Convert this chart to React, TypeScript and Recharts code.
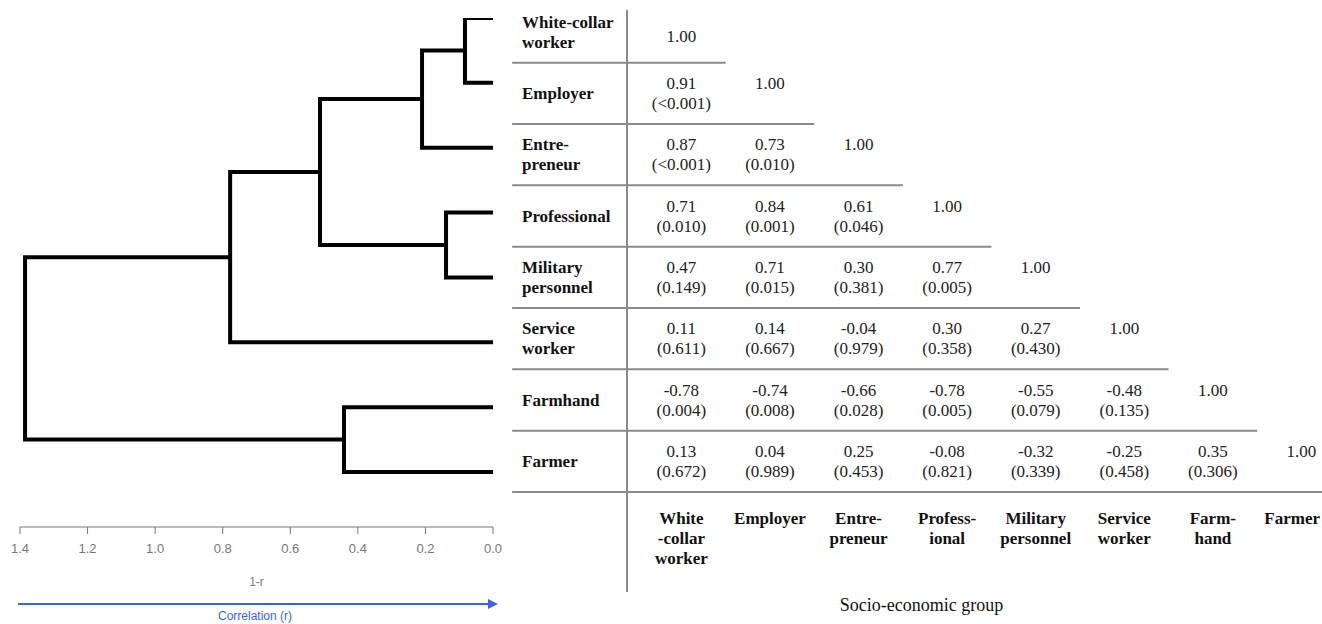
import React from 'react';
import { LineChart, Line, XAxis, YAxis, ScatterChart, Scatter, ReferenceLine } from 'recharts';

// ---------- data ----------
const groups = ['White-collar worker', 'Employer', 'Entrepreneur', 'Professional', 'Military personnel', 'Service worker', 'Farmhand', 'Farmer'];
const rowLabelLines = [['White-collar', 'worker'], ['Employer'], ['Entre-', 'preneur'], ['Professional'], ['Military', 'personnel'], ['Service', 'worker'], ['Farmhand'], ['Farmer']];
const colLabelLines = [['White', '-collar', 'worker'], ['Employer'], ['Entre-', 'preneur'], ['Profess-', 'ional'], ['Military', 'personnel'], ['Service', 'worker'], ['Farm-', 'hand'], ['Farmer']];

// lower-triangle correlations (row i, columns 0..i)
const rValues: number[][] = [
  [1.0],
  [0.91, 1.0],
  [0.87, 0.73, 1.0],
  [0.71, 0.84, 0.61, 1.0],
  [0.47, 0.71, 0.3, 0.77, 1.0],
  [0.11, 0.14, -0.04, 0.3, 0.27, 1.0],
  [-0.78, -0.74, -0.66, -0.78, -0.55, -0.48, 1.0],
  [0.13, 0.04, 0.25, -0.08, -0.32, -0.25, 0.35, 1.0],
];
const pValues: string[][] = [
  [],
  ['<0.001'],
  ['<0.001', '0.010'],
  ['0.010', '0.001', '0.046'],
  ['0.149', '0.015', '0.381', '0.005'],
  ['0.611', '0.667', '0.979', '0.358', '0.430'],
  ['0.004', '0.008', '0.028', '0.005', '0.079', '0.135'],
  ['0.672', '0.989', '0.453', '0.821', '0.339', '0.458', '0.306'],
];

// dendrogram merges (L = leaf index, M = earlier merge index), heights in 1-r
const mergeA = ['L0', 'M0', 'L3', 'M1', 'M3', 'L6', 'M4'];
const mergeB = ['L1', 'L2', 'L4', 'M2', 'L5', 'L7', 'M5'];
const mergeHeight = [0.083, 0.21, 0.139, 0.512, 0.778, 0.441, 1.385];
const distTicks = [0, 0.2, 0.4, 0.6, 0.8, 1.0, 1.2, 1.4];

// ---------- derived ----------
const nodeY: Record<string, number> = {};
const nodeH: Record<string, number> = {};
groups.forEach((_, i) => { nodeY['L' + i] = i; nodeH['L' + i] = 0; });
const segments = mergeHeight.map((h, k) => {
  const a = mergeA[k], b = mergeB[k];
  nodeY['M' + k] = (nodeY[a] + nodeY[b]) / 2;
  nodeH['M' + k] = h;
  return [
    { x: nodeH[a], y: nodeY[a] },
    { x: h, y: nodeY[a] },
    { x: h, y: nodeY[b] },
    { x: nodeH[b], y: nodeY[b] },
  ];
});

const cells: any[] = [];
rValues.forEach((row, i) => row.forEach((r, j) => {
  cells.push({ row: i, col: j, r: r.toFixed(2), p: pValues[i][j] ?? null, single: row.length === 1 });
}));

const SERIF = '"Liberation Serif", "Times New Roman", serif';
const SANS = '"Liberation Sans", Arial, sans-serif';
const GRID = '#8a8a8a';
const TABLE_W = 812;

const RowTick = (props: any) => {
  const lines = rowLabelLines[props.payload.value] || [];
  const y0 = props.y - (lines.length - 1) * 10;
  return (
    <g>
      {lines.map((t, k) => (
        <text key={k} x={12} y={y0 + k * 20} dominantBaseline="central" fontFamily={SERIF} fontWeight="bold" fontSize={17} fill="#111">{t}</text>
      ))}
    </g>
  );
};

const ColTick = (props: any) => {
  const lines = colLabelLines[props.payload.value] || [];
  const nearEdge = props.x + 30 > TABLE_W;
  return (
    <g>
      {lines.map((t, k) => (
        <text key={k} x={nearEdge ? TABLE_W - 2 : props.x} y={props.y + 20 + k * 20} textAnchor={nearEdge ? 'end' : 'middle'} dominantBaseline="central" fontFamily={SERIF} fontWeight="bold" fontSize={17} fill="#111">{t}</text>
      ))}
    </g>
  );
};

const CellShape = (props: any) => {
  const { cx, cy, payload } = props;
  const yR = payload.single ? cy + 4 : cy - 10;
  return (
    <g>
      <text x={cx} y={yR} textAnchor="middle" dominantBaseline="central" fontFamily={SERIF} fontSize={17} fill="#222">{payload.r}</text>
      {payload.p && (
        <text x={cx} y={cy + 10} textAnchor="middle" dominantBaseline="central" fontFamily={SERIF} fontSize={17} fill="#222">({payload.p})</text>
      )}
    </g>
  );
};

const X_DOMAIN: [number, number] = [-0.614, 7.232];
const Y_DOMAIN: [number, number] = [-0.3587, 7.5];
const ROW_LINE_LEFT = -1.91;
const VLINE_BOTTOM = 9.13;

export default function App() {
  return (
    <div style={{ position: 'absolute', left: 0, top: 0, width: 1322, height: 624, background: '#fff', overflow: 'hidden' }}>
      <div style={{ position: 'absolute', left: 0, top: 0 }}>
        <LineChart width={510} height={624} margin={{ top: 18, right: 17, bottom: 37, left: 20 }}>
          <XAxis
            type="number"
            dataKey="x"
            domain={[0, 1.4]}
            reversed
            ticks={distTicks}
            interval={0}
            allowDataOverflow
            tickFormatter={(v: number) => v.toFixed(1)}
            stroke="#777"
            tickSize={7}
            tickMargin={10}
            height={60}
            tick={{ fill: '#777', fontSize: 13, fontFamily: SANS }}
            label={{ value: '1-r', position: 'insideBottom', offset: 1, fill: '#777', fontSize: 12, fontFamily: SANS }}
          />
          <YAxis type="number" dataKey="y" hide reversed domain={[0, 7.848]} allowDataOverflow />
          {segments.map((seg, k) => (
            <Line key={k} data={seg} dataKey="y" type="linear" stroke="#000" strokeWidth={4} dot={false} isAnimationActive={false} strokeLinejoin="miter" />
          ))}
        </LineChart>
      </div>
      <svg style={{ position: 'absolute', left: 0, top: 0, pointerEvents: 'none' }} width={510} height={624}>
        <line x1={18} y1={604} x2={492} y2={604} stroke="#3c62e6" strokeWidth={2} />
        <polygon points="498,604 488,599 488,609" fill="#3c62e6" />
        <text x={255} y={620} textAnchor="middle" fontFamily={SANS} fontSize={12} fill="#3c62e6">Correlation (r)</text>
      </svg>
      <div style={{ position: 'absolute', left: 510, top: 0 }}>
        <ScatterChart width={TABLE_W} height={624} margin={{ top: 10, right: 0, bottom: 0, left: 0 }}>
          <XAxis
            type="number"
            dataKey="col"
            domain={X_DOMAIN}
            ticks={[0, 1, 2, 3, 4, 5, 6, 7]}
            interval={0}
            allowDataOverflow
            axisLine={false}
            tickLine={false}
            tickMargin={0}
            height={132}
            tick={<ColTick />}
            label={{ value: 'Socio-economic group', position: 'insideBottom', offset: 13, dx: -53, fill: '#111', fontSize: 18, fontFamily: SERIF }}
          />
          <YAxis
            type="number"
            dataKey="row"
            domain={Y_DOMAIN}
            reversed
            ticks={[0, 1, 2, 3, 4, 5, 6, 7]}
            interval={0}
            allowDataOverflow
            axisLine={false}
            tickLine={false}
            tickMargin={0}
            width={117}
            tick={<RowTick />}
          />
          <ReferenceLine
            segment={[{ x: X_DOMAIN[0], y: Y_DOMAIN[0] }, { x: X_DOMAIN[0], y: VLINE_BOTTOM }]}
            stroke={GRID}
            strokeWidth={2}
            ifOverflow="visible"
          />
          {groups.map((_, i) => (
            <ReferenceLine
              key={i}
              segment={[{ x: ROW_LINE_LEFT, y: i + 0.5 }, { x: Math.min(i + 0.5, X_DOMAIN[1]), y: i + 0.5 }]}
              stroke={GRID}
              strokeWidth={2}
              ifOverflow="visible"
            />
          ))}
          <Scatter data={cells} shape={<CellShape />} isAnimationActive={false} />
        </ScatterChart>
      </div>
    </div>
  );
}
